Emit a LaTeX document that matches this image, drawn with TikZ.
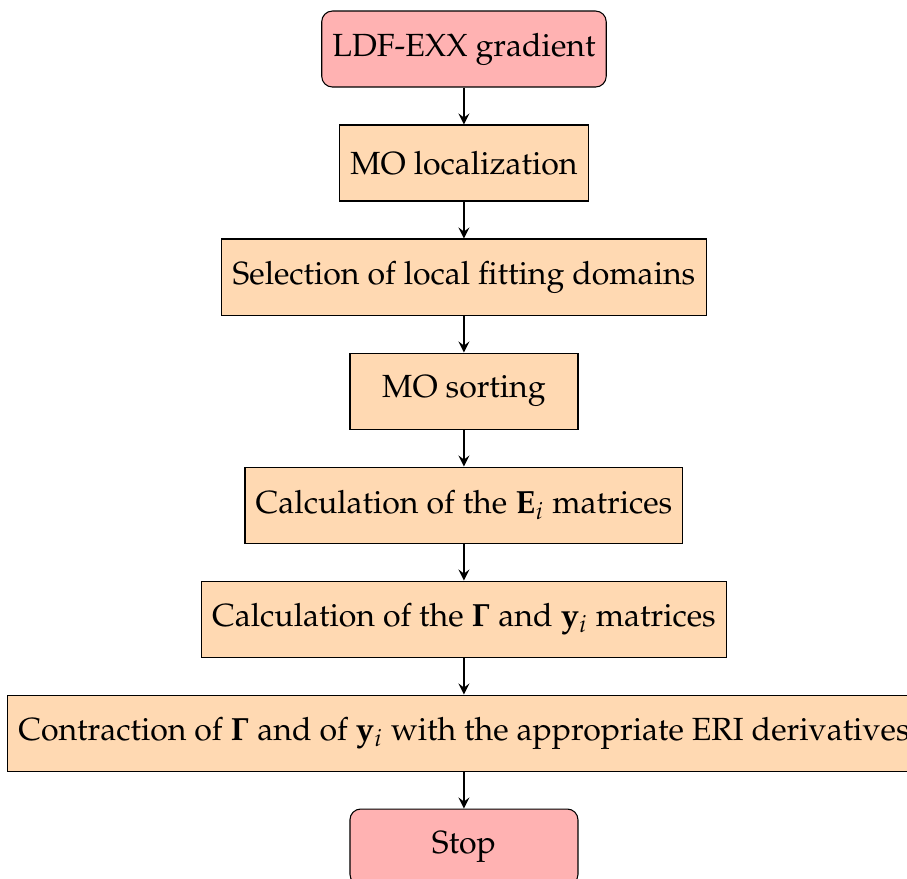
\documentclass[12pt,tikz,border=0pt]{standalone}
\usepackage[T1]{fontenc}
\usepackage{amsmath}
\usepackage{mathpazo}
\usepackage{xcolor}
\usepackage{tikz}
\usetikzlibrary{positioning, arrows}
\tikzset{
	>=stealth,
	node distance=1.5cm,
	align=center,
	startstop/.style={rectangle, rounded corners, draw, fill=red!30, minimum width=3cm, minimum height=1cm},
	process/.style={rectangle, draw, fill=orange!30, minimum width=3cm, minimum height=1cm},
	arrow/.style={thick, ->}
}

\begin{document}
\begin{tikzpicture}
	\useasboundingbox (-6.105,0.645) rectangle (5.829,-10.908);
	\node[startstop] (start) {LDF-EXX gradient};
	\node[process, below of=start] (loc) {MO localization};
	\node[process, below of=loc] (dom) {Selection of local fitting domains};
	\node[process, below of=dom] (sort) {MO sorting};
	\node[process, below of=sort] (emat) {Calculation of the $\mathbf{E}_i$ matrices};
	\node[process, below of=emat] (gmat) {Calculation of the $\mathbf{\Gamma}$ and $\mathbf{y}_i$ matrices};
	\node[process, below of=gmat] (contr) {Contraction of $\mathbf{\Gamma}$ and of $\mathbf{y}_i$ with the appropriate ERI derivatives};
	\node[startstop, below of=contr] (stop) {Stop};
	\draw[arrow] (start) -- (loc);
	\draw[arrow] (loc) -- (dom);
	\draw[arrow] (dom) -- (sort);
	\draw[arrow] (sort) -- (emat);
	\draw[arrow] (emat) -- (gmat);
	\draw[arrow] (gmat) -- (contr);
	\draw[arrow] (contr) -- (stop);
\end{tikzpicture}
\end{document}
